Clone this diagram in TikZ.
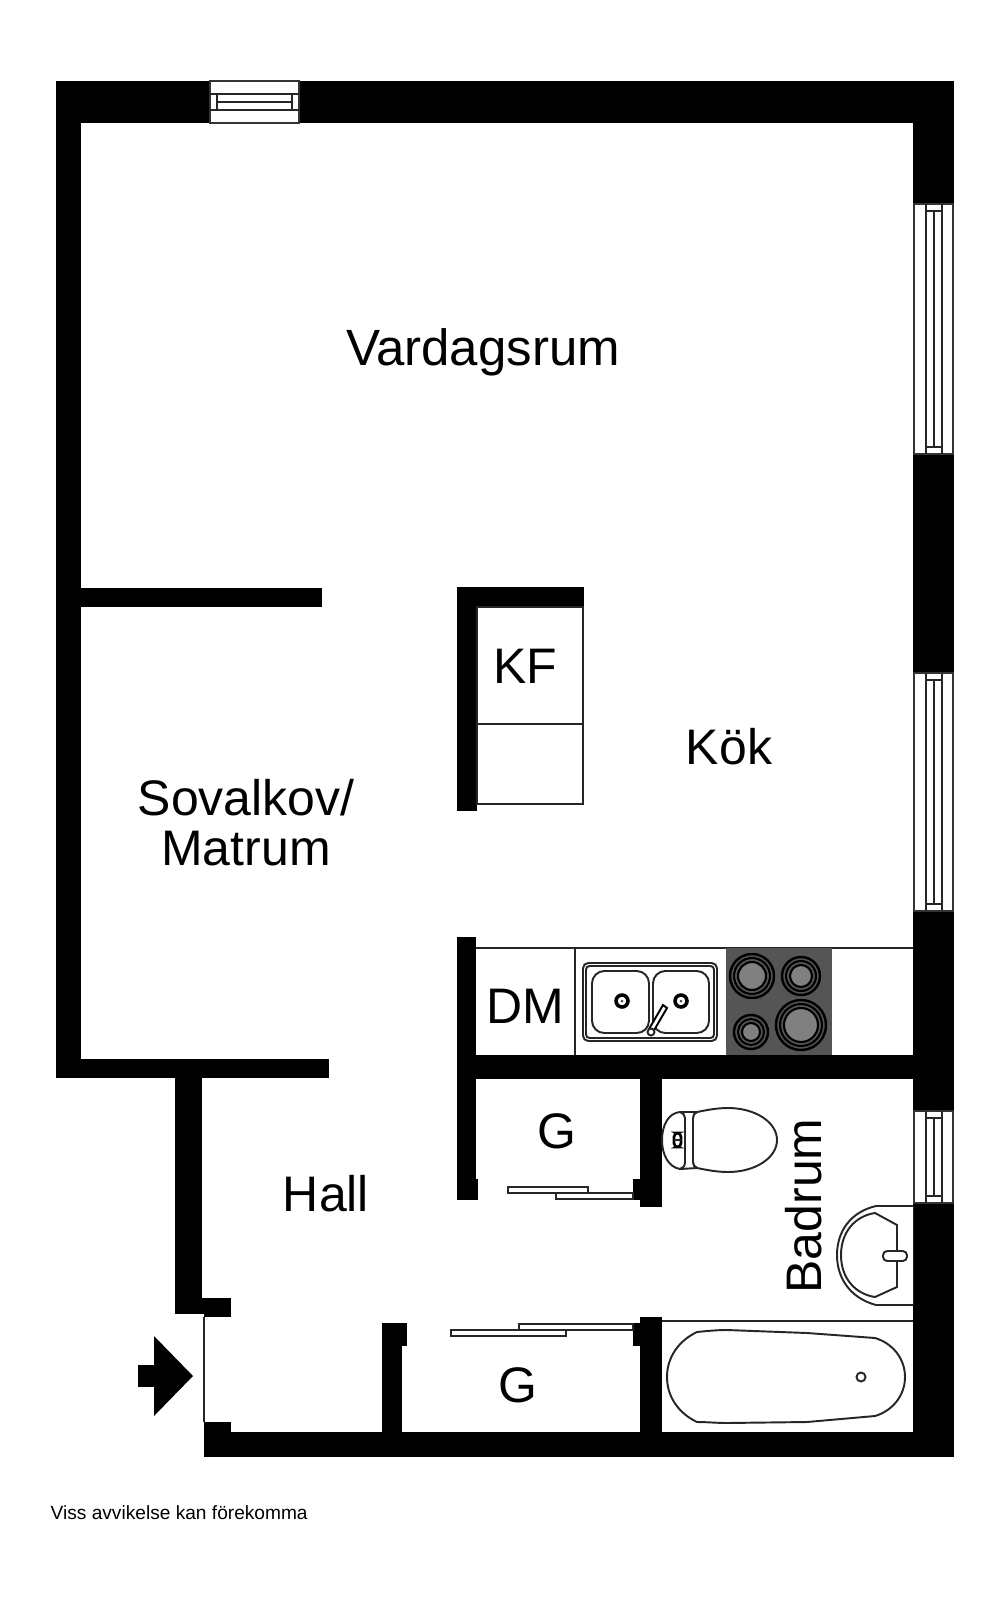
\documentclass[tikz,border=0pt]{standalone}
\usepackage{fontspec}
\setmainfont{Liberation Sans}
\usepackage{tikz}
\definecolor{hobgray}{HTML}{555555}
\definecolor{ringgray}{HTML}{808080}

\begin{document}
\begin{tikzpicture}[x=.01cm,y=-.01cm]
\tikzstyle{every node}=[inner sep=0pt]
\tikzstyle{room}=[font=\fontsize{14.2pt}{14.2pt}\selectfont, align=center]
\tikzstyle{wall}=[fill=black]
\tikzstyle{line}=[draw=black!85, line width=.55pt]
\tikzstyle{fixture}=[draw=black!85, line width=.55pt, fill=white]
\tikzstyle{pane}=[fill=white, draw=black!80, line width=.55pt]
\useasboundingbox (0,0) rectangle (1005,1600);
\fill[white] (0,0) rectangle (1005,1600);
\fill[wall] (56,81) rectangle (954,123);
\fill[wall] (56,81) rectangle (81,1078);
\fill[wall] (913,81) rectangle (954,1457);
\fill[wall] (56,1059) rectangle (329,1078);
\fill[wall] (81,588) rectangle (322,607);
\fill[wall] (457,587) rectangle (584,607);
\fill[wall] (457,587) rectangle (477,811);
\fill[wall] (457,937) rectangle (476,1200);
\fill[wall] (476,1179) rectangle (478,1200);
\fill[wall] (457,1055) rectangle (913,1079);
\fill[wall] (640,1079) rectangle (662,1207);
\fill[wall] (633,1179) rectangle (640,1200);
\fill[wall] (175,1078) rectangle (202,1314);
\fill[wall] (175,1298) rectangle (231,1314);
\fill[wall] (204,1298) rectangle (231,1317);
\fill[wall] (204,1432) rectangle (954,1457);
\fill[wall] (204,1422) rectangle (231,1432);
\fill[wall] (382,1323) rectangle (402,1432);
\fill[wall] (382,1323) rectangle (407,1346);
\fill[wall] (640,1317) rectangle (662,1432);
\fill[wall] (633,1323) rectangle (640,1346);
\fill[wall] (138,1365) rectangle (154,1387);
\fill[wall] (154,1336) -- (193,1376) -- (154,1416) -- cycle;
\draw[line] (204,1317) -- (204,1422);
\draw[pane] (210,81) rectangle (299,123);
\draw[line] (210,94) -- (299,94);
\draw[line] (210,110) -- (299,110);
\draw[line] (217,94) -- (217,110);
\draw[line] (292,94) -- (292,110);
\draw[line] (217,102) -- (292,102);
\foreach \wtop/\wbot in {204/454,673/911,1111/1203} {
\draw[pane] (914,\wtop) rectangle (953,\wbot);
\draw[line] (926,\wtop) -- (926,\wbot);
\draw[line] (942,\wtop) -- (942,\wbot);
\draw[line] (934,\wtop+7) -- (934,\wbot-7);
\draw[line] (926,\wtop+7) -- (942,\wtop+7);
\draw[line] (926,\wbot-7) -- (942,\wbot-7);
}
\draw[line] (477,607) rectangle (583,804);
\draw[line] (477,724) -- (583,724);
\draw[line] (476,948) -- (913,948);
\draw[line] (575,948) -- (575,1055);
\fill[hobgray] (726,948) rectangle (832,1055);
\foreach \cx/\cy/\router/\rmiddle/\rcore in {752/976/22/18/14,801/976/19/15/11,751/1032/17/13/9,801/1025/25/21/17} {
\draw[draw=black, line width=.7pt, fill=hobgray] (\cx,\cy) circle (\router);
\draw[draw=black, line width=.6pt] (\cx,\cy) circle (\rmiddle);
\draw[draw=black, line width=.6pt, fill=ringgray] (\cx,\cy) circle (\rcore);
}
\draw[fixture, rounded corners=1.5pt] (583,963) rectangle (717,1041);
\draw[fixture, rounded corners=1pt] (586,966) rectangle (714,1038);
\draw[fixture, rounded corners=3.5pt] (592,971) rectangle (649,1033);
\draw[fixture, rounded corners=3.5pt] (653,971) rectangle (709,1033);
\foreach \cx in {622,681} {
\draw[draw=black, line width=1pt, fill=white] (\cx,1001) circle (6);
\fill[black!70] (\cx,1001) circle (1.5);
}
\draw[draw=black, line width=.55pt, fill=white] (649,1029) -- (663,1005) -- (667,1008) -- (653,1032) -- cycle;
\draw[fixture] (651,1032) circle (3.5);
\draw[fixture] (697,1112) .. controls (707,1110) and (717,1108) .. (728,1108) .. controls (755,1108) and (777,1122) .. (777,1140) .. controls (777,1158) and (755,1172) .. (728,1172) .. controls (717,1172) and (707,1170) .. (697,1168) .. controls (694,1167) and (693,1165) .. (693,1162) -- (693,1118) .. controls (693,1115) and (694,1113) .. (697,1112) -- cycle;
\draw[fixture] (680,1112) -- (697,1112) .. controls (694,1113) and (693,1115) .. (693,1118) -- (693,1162) .. controls (693,1165) and (694,1167) .. (697,1168) -- (680,1169) -- cycle;
\draw[fixture] (680,1112) .. controls (668,1113) and (662,1126) .. (662,1140) .. controls (662,1154) and (668,1167) .. (680,1169) .. controls (683,1168) and (685,1166) .. (685,1162) -- (685,1118) .. controls (685,1115) and (683,1113) .. (680,1112) -- cycle;
\draw[draw=black, line width=.75pt, fill=white, rounded corners=1.1pt] (674,1133) rectangle (681,1147);
\draw[line] (674,1140) -- (681,1140);
\draw[fixture] (913,1206) -- (876,1206) .. controls (850,1212) and (837,1232) .. (837,1255) .. controls (837,1278) and (850,1298) .. (876,1305) -- (913,1305);
\draw[fixture] (897,1225) -- (875,1213) .. controls (855,1216) and (841,1232) .. (841,1255) .. controls (841,1278) and (855,1294) .. (875,1297) -- (897,1287) -- cycle;
\draw[fixture, rounded corners=1.2pt] (883,1251) rectangle (907,1261);
\draw[line] (662,1321) -- (913,1321);
\draw[fixture] (697,1332) .. controls (707,1331) and (717,1330) .. (727,1330) -- (807,1333) -- (875,1338) .. controls (892,1343) and (905,1358) .. (905,1377) .. controls (905,1396) and (892,1411) .. (875,1416) -- (807,1422) -- (727,1423) .. controls (717,1423) and (707,1422) .. (697,1422) .. controls (680,1414) and (667,1398) .. (667,1377) .. controls (667,1356) and (680,1340) .. (697,1332) -- cycle;
\draw[fixture] (861,1377) circle (4.5);
\draw[fixture] (508,1187) rectangle (588,1193);
\draw[fixture] (556,1193) rectangle (633,1199);
\draw[fixture] (519,1324) rectangle (633,1330);
\draw[fixture] (451,1330) rectangle (566,1336);
\draw (483,352) node (vardagsrum) [room, font=\fontsize{14.5pt}{14.5pt}\selectfont] {Vardagsrum};
\draw (246,823) node (sovalkov) [room] {Sovalkov/\\Matrum};
\draw (729,747) node (kok) [room] {Kök};
\draw (525,666) node (kf) [room] {KF};
\draw (525,1006) node (dm) [room] {DM};
\draw (557,1131) node (gnorth) [room] {G};
\draw (518,1385) node (gsouth) [room] {G};
\draw (326,1194) node (hall) [room] {Hall};
\draw (804,1206) node (badrum) [room, rotate=90] {Badrum};
\draw (50,1513) node (viss) [anchor=west, font=\fontsize{5.44pt}{7pt}\selectfont] {Viss avvikelse kan förekomma};
\end{tikzpicture}
\end{document}
